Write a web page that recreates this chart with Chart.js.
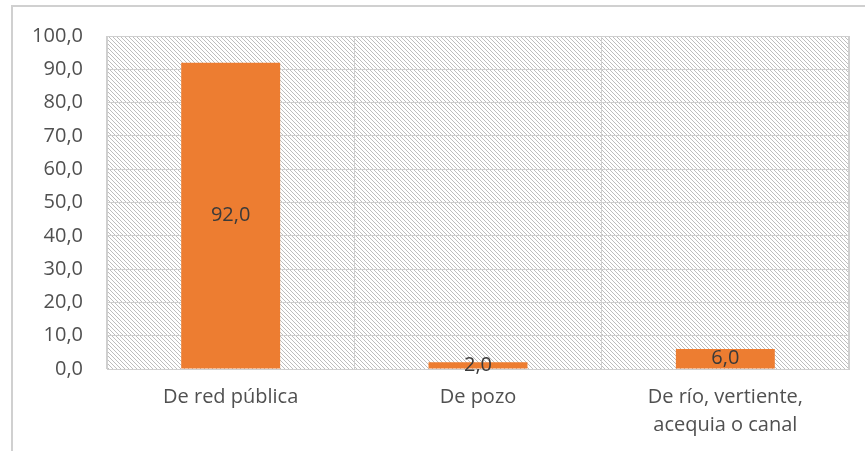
<!DOCTYPE html>
<html lang="es">
<head>
<meta charset="utf-8" />
<title>Fuente de agua</title>
<script src="https://cdn.jsdelivr.net/npm/chart.js"></script>
<style>
  html, body { margin: 0; padding: 0; background: #ffffff; }
  #wrap { width: 865px; height: 451px; position: relative; }
</style>
</head>
<body>
<div id="wrap"><canvas id="chart"></canvas></div>
<script>
// categorias y valores (%)
const categories = ["De red pública", "De pozo", ["De río, vertiente,", "acequia o canal"]];
const values = [92.0, 2.0, 6.0];
const yTicks = [0, 10, 20, 30, 40, 50, 60, 70, 80, 90, 100];

const textColor = "#505050";
const gridColor = "#cfcfcf";
const barColor = "#ED7D31";
const fontFamily = "'Open Sans', 'Noto Sans', sans-serif";

// fondo rayado del area de trazado
function makeHatch() {
  const n = 4;
  const c = document.createElement("canvas");
  c.width = n; c.height = n;
  const g = c.getContext("2d");
  g.fillStyle = "#ffffff";
  g.fillRect(0, 0, n, n);
  g.strokeStyle = "#bdbdbd";
  g.lineWidth = 1;
  g.beginPath();
  g.moveTo(-1, -1); g.lineTo(n + 1, n + 1);
  g.moveTo(-1, n - 1); g.lineTo(1, n + 1);
  g.moveTo(n - 1, -1); g.lineTo(n + 1, 1);
  g.stroke();
  return g.createPattern(c, "repeat");
}

const hatchPlugin = {
  id: "hatch",
  beforeDraw(chart) {
    const ctx = chart.ctx;
    const a = chart.chartArea;
    ctx.save();
    // marco exterior
    ctx.strokeStyle = "#d0d0d0";
    ctx.lineWidth = 2;
    ctx.beginPath();
    ctx.moveTo(12, 451);
    ctx.lineTo(12, 6);
    ctx.lineTo(865, 6);
    ctx.stroke();
    ctx.fillStyle = makeHatch();
    ctx.fillRect(a.left, a.top, a.right - a.left, a.bottom - a.top);
    ctx.restore();
  },
  afterDraw(chart) {
    // borde derecho del area de trazado
    const ctx = chart.ctx;
    const a = chart.chartArea;
    ctx.save();
    ctx.strokeStyle = gridColor;
    ctx.lineWidth = 1;
    ctx.beginPath();
    ctx.moveTo(Math.round(a.right) - 0.5, a.top);
    ctx.lineTo(Math.round(a.right) - 0.5, a.bottom);
    ctx.stroke();
    ctx.restore();
  }
};

const labelPlugin = {
  id: "valueLabels",
  afterDatasetsDraw(chart) {
    const ctx = chart.ctx;
    const meta = chart.getDatasetMeta(0);
    ctx.save();
    ctx.font = "20px " + fontFamily;
    ctx.fillStyle = "#3a3a3a";
    ctx.textAlign = "center";
    ctx.textBaseline = "middle";
    meta.data.forEach((bar, i) => {
      const y = (bar.y + bar.base) / 2;
      ctx.fillText(values[i].toFixed(1).replace(".", ","), bar.x, y);
    });
    ctx.restore();
  }
};

new Chart(document.getElementById("chart").getContext("2d"), {
  type: "bar",
  data: {
    labels: categories,
    datasets: [{
      data: values,
      backgroundColor: barColor,
      borderWidth: 0,
      categoryPercentage: 1,
      barPercentage: 0.4
    }]
  },
  options: {
    responsive: true,
    maintainAspectRatio: false,
    animation: false,
    layout: { padding: { left: 0, top: 33, right: 16, bottom: 0 } },
    plugins: {
      legend: { display: false },
      tooltip: { enabled: false }
    },
    scales: {
      x: {
        grid: { color: gridColor, lineWidth: 1, drawTicks: false },
        border: { color: gridColor },
        ticks: {
          color: textColor,
          font: { family: fontFamily, size: 20, lineHeight: 1.4 },
          padding: 14,
          maxRotation: 0,
          autoSkip: false
        },
        afterFit(scale) { scale.height = 82; }
      },
      y: {
        min: 0,
        max: 100,
        afterBuildTicks(scale) { scale.ticks = yTicks.map(v => ({ value: v })); },
        grid: { color: gridColor, lineWidth: 1, drawTicks: false },
        border: { color: gridColor },
        ticks: {
          color: textColor,
          font: { family: fontFamily, size: 20 },
          padding: 24,
          callback: v => v.toFixed(1).replace(".", ",")
        },
        afterFit(scale) { scale.width = 107; }
      }
    }
  },
  plugins: [hatchPlugin, labelPlugin]
});
</script>
</body>
</html>
